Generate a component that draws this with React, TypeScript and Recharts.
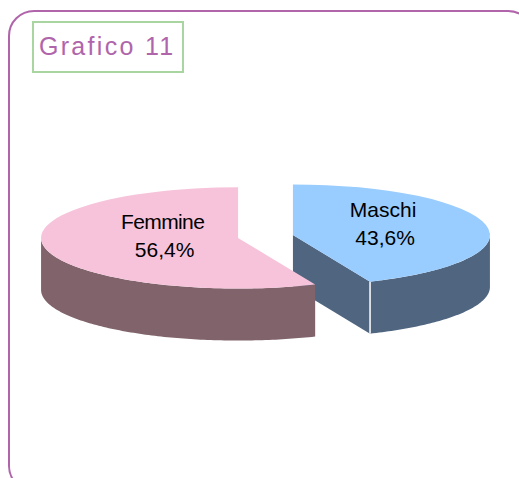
import { Pie, PieChart } from 'recharts'

const categories = ['Maschi', 'Femmine']
const shares = [43.6, 56.4]
const shareLabels = ['43,6%', '56,4%']
const topColors = ['#99ccff', '#f7c3da']
const sideColors = ['#4f6580', '#80636b']

const chartData = categories.map((name, i) => ({ name, value: shares[i], label: shareLabels[i] }))

const WIDTH = 519
const HEIGHT = 478
const CX = 265.5
const CY = 236.5
const RADIUS = 197
const SQUASH = 0.257 // flattening of the disc, gives the 3D look
const DEPTH = 52
const EXPLODE = 28

const RAD = Math.PI / 180

// point on the flattened disc, angle in chart degrees
function onDisc(ox: number, oy: number, r: number, deg: number) {
  return { x: ox + r * Math.cos(deg * RAD), y: oy - r * Math.sin(deg * RAD) * SQUASH }
}

function explodedCentre(cx: number, cy: number, start: number, end: number) {
  return onDisc(cx, cy, EXPLODE, (start + end) / 2)
}

function Slice(props: any) {
  const { cx, cy, outerRadius, startAngle, endAngle, name } = props
  const i = categories.indexOf(name)
  const c = explodedCentre(cx, cy, startAngle, endAngle)
  const a = onDisc(c.x, c.y, outerRadius, startAngle)
  const b = onDisc(c.x, c.y, outerRadius, endAngle)
  const rx = outerRadius
  const ry = outerRadius * SQUASH
  const large = Math.abs(startAngle - endAngle) > 180 ? 1 : 0

  // clockwise on screen, since the angles go down
  const top = `M${c.x},${c.y} L${a.x},${a.y} A${rx},${ry} 0 ${large} 1 ${b.x},${b.y} Z`

  // outer wall: only the part of the rim below the disc's widest line shows
  const lo = Math.max(endAngle, -180)
  const hi = Math.min(startAngle, 0)
  const rimAngles = [lo]
  for (let d = Math.ceil(lo); d < hi; d++) rimAngles.push(d)
  rimAngles.push(hi)
  const rim = rimAngles.map((d) => onDisc(c.x, c.y, outerRadius, d))
  const wall =
    'M' +
    rim.map((p) => `${p.x},${p.y}`).join(' L') +
    ' L' +
    rim
      .slice()
      .reverse()
      .map((p) => `${p.x},${p.y + DEPTH}`)
      .join(' L') +
    ' Z'

  // the cut face of Maschi looks towards the viewer, the one of Femmine does not
  const cutFace =
    name === 'Maschi'
      ? `M${c.x},${c.y} L${b.x},${b.y} L${b.x},${b.y + DEPTH} L${c.x},${c.y + DEPTH} Z`
      : ''

  return (
    <g>
      {cutFace && <path d={cutFace} fill={sideColors[i]} />}
      <path d={wall} fill={sideColors[i]} />
      {name === 'Maschi' && (
        <line x1={b.x} y1={b.y} x2={b.x} y2={b.y + DEPTH} stroke="#ffffff" strokeWidth={1.5} />
      )}
      <path d={top} fill={topColors[i]} />
    </g>
  )
}

function SliceLabel(props: any) {
  const { cx, cy, midAngle, name, label } = props
  const p = onDisc(cx, cy, name === 'Maschi' ? 120 : 105, midAngle)
  return (
    <text
      x={p.x}
      y={p.y - 6}
      textAnchor="middle"
      fill="#000000"
      fontFamily="'Liberation Sans', Arial, sans-serif"
      fontSize={21}
    >
      <tspan x={p.x} dy={-7} letterSpacing={name === 'Femmine' ? -0.6 : 0}>
        {name}
      </tspan>
      <tspan x={p.x + 2} dy={28}>
        {label}
      </tspan>
    </text>
  )
}

export default function App() {
  return (
    <div
      style={{
        position: 'absolute',
        left: 0,
        top: 0,
        width: WIDTH,
        height: HEIGHT,
        overflow: 'hidden',
        background: '#ffffff',
      }}
    >
      <div
        style={{
          position: 'absolute',
          left: 8,
          top: 10,
          width: 522,
          height: 478,
          border: '2px solid #b065ab',
          borderRadius: 26,
        }}
      />
      <div
        style={{
          position: 'absolute',
          left: 32,
          top: 21,
          width: 143,
          height: 48,
          border: '2px solid #a8d5a0',
          color: '#b065ab',
          fontFamily: "'Liberation Sans', Arial, sans-serif",
          fontSize: 25,
          letterSpacing: 2.3,
          lineHeight: '47px',
          paddingLeft: 5,
          whiteSpace: 'nowrap',
        }}
      >
        Grafico 11
      </div>
      <PieChart
        width={WIDTH}
        height={HEIGHT}
        margin={{ top: 0, right: 0, bottom: 0, left: 0 }}
        style={{ position: 'absolute', left: 0, top: 0 }}
      >
        <Pie
          data={chartData}
          dataKey="value"
          nameKey="name"
          cx={CX}
          cy={CY}
          innerRadius={0}
          outerRadius={RADIUS}
          startAngle={90}
          endAngle={-270}
          stroke="none"
          isAnimationActive={false}
          shape={Slice}
          label={SliceLabel}
          labelLine={false}
        />
      </PieChart>
    </div>
  )
}
